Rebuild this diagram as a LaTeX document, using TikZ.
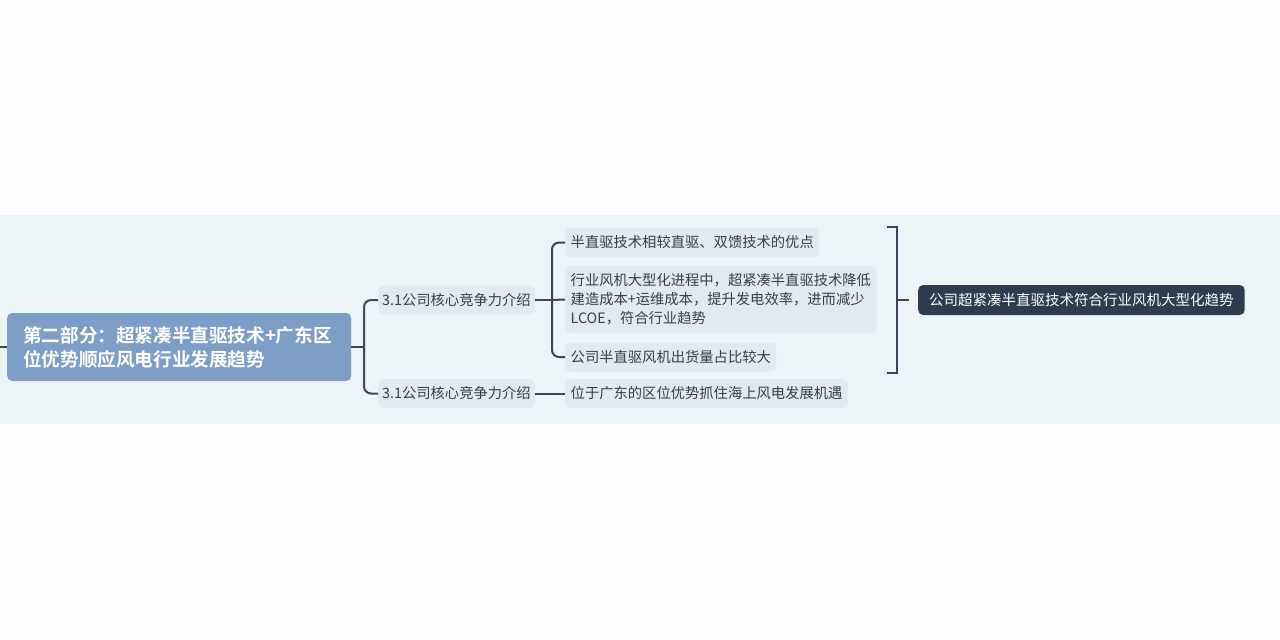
\documentclass[tikz,border=0pt]{standalone}
\usepackage{fontspec}
\setmainfont{Noto Sans CJK SC}[BoldFont={Noto Sans CJK SC Bold}]
\usetikzlibrary{positioning}
\definecolor{pagebg}{HTML}{FDFEFF}
\definecolor{bandbg}{HTML}{EDF4F8}
\definecolor{rootblue}{HTML}{7F9EC7}
\definecolor{topicfill}{HTML}{E2E9F0}
\definecolor{textgray}{HTML}{383D46}
\definecolor{linecol}{HTML}{3B4758}
\definecolor{sumfill}{HTML}{2F3C4F}
\tikzset{
    rootnode/.style={
    rectangle,rounded corners=5pt,fill=rootblue,text=white,anchor=west,
    font=\fontsize{18.6}{24}\selectfont\bfseries,align=left,
    text width=312pt,inner xsep=16pt,inner ysep=0pt,minimum height=68pt
    },
    topic/.style={
    rectangle,rounded corners=5pt,fill=topicfill,text=textgray,anchor=west,
    font=\fontsize{14.3}{19}\selectfont,align=left,
    inner xsep=5.5pt,inner ysep=0pt,minimum height=29pt
    },
    summary/.style={
    rectangle,rounded corners=5pt,fill=sumfill,text=white,anchor=west,
    font=\fontsize{14.5}{19}\selectfont,
    inner xsep=11pt,inner ysep=0pt,minimum height=30pt
    },
    conn/.style={
    draw=linecol,line width=2pt,rounded corners=7pt
    },
}

\begin{document}
\begin{tikzpicture}[x=1pt,y=-1pt]
  \useasboundingbox (0,0) rectangle (1280,640);
  \fill[pagebg] (0,0) rectangle (1280,640);
  \fill[bandbg] (0,215) rectangle (1280,424);

  \node[rootnode] (root) at (7,347) {第二部分：超紧凑半直驱技术+广东区\\位优势顺应风电行业发展趋势};
  \node[topic,inner xsep=4pt] (core1) at (378,300) {3.1公司核心竞争力介绍};
  \node[topic,inner xsep=4pt] (core2) at (378,393.5) {3.1公司核心竞争力介绍};
  \node[topic] (adv) at (565,242.5) {半直驱技术相较直驱、双馈技术的优点};
  \node[topic,inner ysep=5pt,minimum height=67pt] (trend) at (565,299.5)
    {行业风机大型化进程中，超紧凑半直驱技术降低\\建造成本+运维成本，提升发电效率，进而减少\\LCOE，符合行业趋势};
  \node[topic] (share) at (565,357) {公司半直驱风机出货量占比较大};
  \node[topic] (gd) at (565,393.5) {位于广东的区位优势抓住海上风电发展机遇};
  \node[summary] (sum) at (918,300) {公司超紧凑半直驱技术符合行业风机大型化趋势};

  \coordinate (lstub) at (0,347);
  \coordinate (j1) at (364,347);
  \coordinate (j2) at (552,300);
  \coordinate (bt) at (887,227);
  \coordinate (bb) at (887,373);
  \coordinate (bm) at (897,300);

  \draw[conn] (lstub) -- (root.west);
  \draw[conn] (root.east) -- (j1);
  \draw[conn] (j1) |- (core1.west);
  \draw[conn] (j1) |- (core2.west);
  \draw[conn] (core1.east) -- (j2);
  \draw[conn] (j2) |- (adv.west);
  \draw[conn] (j2) -- (trend.west);
  \draw[conn] (j2) |- (share.west);
  \draw[conn] (core2.east) -- (gd.west);
  \draw[conn,rounded corners=0pt,line join=miter] (bt) -- (bt -| bm) -- (bb -| bm) -- (bb);
  \draw[conn,shorten >=9pt] (bm) -- (sum.west);
\end{tikzpicture}
\end{document}
